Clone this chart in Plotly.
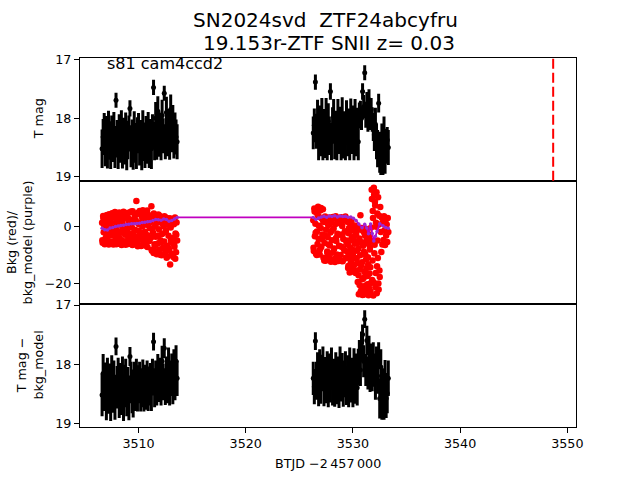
import plotly.graph_objects as go

# ---------------- data ----------------
# BTJD times, sector 81 (two orbits)
T1 = [3506.60, 3506.65, 3506.70, 3506.75, 3506.80, 3506.85, 3506.90, 3506.95, 3507.00, 3507.05,
      3507.10, 3507.15, 3507.20, 3507.25, 3507.30, 3507.35, 3507.40, 3507.45, 3507.50, 3507.55,
      3507.60, 3507.65, 3507.70, 3507.75, 3507.80, 3507.85, 3507.90, 3507.95, 3508.00, 3508.05,
      3508.10, 3508.15, 3508.20, 3508.25, 3508.30, 3508.35, 3508.40, 3508.45, 3508.50, 3508.55,
      3508.60, 3508.65, 3508.70, 3508.75, 3508.80, 3508.85, 3508.90, 3508.95, 3509.00, 3509.05,
      3509.10, 3509.15, 3509.20, 3509.25, 3509.30, 3509.35, 3509.40, 3509.45, 3509.50, 3509.55,
      3509.60, 3509.65, 3509.70, 3509.75, 3509.80, 3509.85, 3509.90, 3509.95, 3510.00, 3510.05,
      3510.10, 3510.15, 3510.20, 3510.25, 3510.30, 3510.35, 3510.40, 3510.45, 3510.50, 3510.55,
      3510.60, 3510.65, 3510.70, 3510.75, 3510.80, 3510.85, 3510.90, 3510.95, 3511.00, 3511.05,
      3511.10, 3511.15, 3511.20, 3511.25, 3511.30, 3511.35, 3511.40, 3511.45, 3511.50, 3511.55,
      3511.60, 3511.65, 3511.70, 3511.75, 3511.80, 3511.85, 3511.90, 3511.95, 3512.00, 3512.05,
      3512.10, 3512.15, 3512.20, 3512.25, 3512.30, 3512.35, 3512.40, 3512.45, 3512.50, 3512.55,
      3512.60, 3512.65, 3512.70, 3512.75, 3512.80, 3512.85, 3512.90, 3512.95, 3513.00, 3513.05,
      3513.10, 3513.15, 3513.20, 3513.25, 3513.30, 3513.35, 3513.40, 3513.45, 3513.50, 3513.55,
      3513.60]
T2 = [3526.30, 3526.35, 3526.40, 3526.45, 3526.50, 3526.55, 3526.60, 3526.65, 3526.70, 3526.75,
      3526.80, 3526.85, 3526.90, 3526.95, 3527.00, 3527.05, 3527.10, 3527.15, 3527.20, 3527.25,
      3527.30, 3527.35, 3527.40, 3527.45, 3527.50, 3527.55, 3527.60, 3527.65, 3527.70, 3527.75,
      3527.80, 3527.85, 3527.90, 3527.95, 3528.00, 3528.05, 3528.10, 3528.15, 3528.20, 3528.25,
      3528.30, 3528.35, 3528.40, 3528.45, 3528.50, 3528.55, 3528.60, 3528.65, 3528.70, 3528.75,
      3528.80, 3528.85, 3528.90, 3528.95, 3529.00, 3529.05, 3529.10, 3529.15, 3529.20, 3529.25,
      3529.30, 3529.35, 3529.40, 3529.45, 3529.50, 3529.55, 3529.60, 3529.65, 3529.70, 3529.75,
      3529.80, 3529.85, 3529.90, 3529.95, 3530.00, 3530.05, 3530.10, 3530.15, 3530.20, 3530.25,
      3530.30, 3530.35, 3530.40, 3530.45, 3530.50, 3530.55, 3530.60, 3530.65, 3530.70, 3530.75,
      3530.80, 3530.85, 3530.90, 3530.95, 3531.00, 3531.05, 3531.10, 3531.15, 3531.20, 3531.25,
      3531.30, 3531.35, 3531.40, 3531.45, 3531.50, 3531.55, 3531.60, 3531.65, 3531.70, 3531.75,
      3531.80, 3531.85, 3531.90, 3531.95, 3532.00, 3532.05, 3532.10, 3532.15, 3532.20, 3532.25,
      3532.30, 3532.35, 3532.40, 3532.45, 3532.50, 3532.55, 3532.60, 3532.65, 3532.70, 3532.75,
      3532.80, 3532.85, 3532.90, 3532.95, 3533.00, 3533.05, 3533.10, 3533.15, 3533.20, 3533.25,
      3533.30]
# extra background samples
T1b = [3506.625, 3506.725, 3506.825, 3506.925, 3507.025, 3507.125, 3507.225, 3507.325, 3507.425, 3507.525,
       3507.625, 3507.725, 3507.825, 3507.925, 3508.025, 3508.125, 3508.225, 3508.325, 3508.425, 3508.525,
       3508.625, 3508.725, 3508.825, 3508.925, 3509.025, 3509.125, 3509.225, 3509.325, 3509.425, 3509.525,
       3509.625, 3509.725, 3509.825, 3509.925, 3510.025, 3510.125, 3510.225, 3510.325, 3510.425, 3510.525,
       3510.625, 3510.725, 3510.825, 3510.925, 3511.025, 3511.125, 3511.225, 3511.325, 3511.425, 3511.525,
       3511.625, 3511.725, 3511.825, 3511.925, 3512.025, 3512.125, 3512.225, 3512.325, 3512.425, 3512.525,
       3512.625, 3512.725, 3512.825, 3512.925, 3513.025, 3513.125, 3513.225, 3513.325, 3513.425, 3513.525]
T2c = [3526.325, 3526.425, 3526.525, 3526.625, 3526.725, 3526.825, 3526.925, 3527.025, 3527.125, 3527.225,
       3527.325, 3527.425, 3527.525, 3527.625, 3527.725, 3527.825, 3527.925, 3528.025, 3528.125, 3528.225,
       3528.325, 3528.425, 3528.525, 3528.625, 3528.725, 3528.825, 3528.925, 3529.025, 3529.125, 3529.225,
       3529.325, 3529.425]
T2b = [3529.525, 3529.575, 3529.625, 3529.675, 3529.725, 3529.775, 3529.825, 3529.875, 3529.925, 3529.975,
       3530.025, 3530.075, 3530.125, 3530.175, 3530.225, 3530.275, 3530.325, 3530.375, 3530.425, 3530.475,
       3530.525, 3530.575, 3530.625, 3530.675, 3530.725, 3530.775, 3530.825, 3530.875, 3530.925, 3530.975,
       3531.025, 3531.075, 3531.125, 3531.175, 3531.225, 3531.275, 3531.325, 3531.375, 3531.425, 3531.475,
       3531.525, 3531.575, 3531.625, 3531.675, 3531.725, 3531.775, 3531.825, 3531.875, 3531.925, 3531.975,
       3532.025, 3532.075, 3532.125, 3532.175, 3532.225, 3532.275, 3532.325, 3532.375, 3532.425, 3532.475]

# background flux (red)
bkg1 = [1.2, -5.8, 3.6, -2.1, 0.4, -6.3, 2.5, -3.9, -0.8, 3.9,
        -4.7, 1.8, -6.1, 4.2, -1.5, 0.9, -3.2, 2.9, -5.4, 4.6,
        -0.3, -6.4, 3.3, -2.6, 5.0, -4.5, 1.4, -1.1, 4.1, -5.9,
        2.2, -3.5, 4.8, -6.2, 0.6, -2.0, 3.7, -4.9, 1.9, -0.9,
        5.1, -5.6, 2.7, -3.0, -6.5, 0.2, 4.4, -1.7, 3.1, -4.2,
        1.0, -6.0, 4.9, -2.8, 2.3, -4.6, -0.5, 5.3, -3.4, 1.6,
        -5.2, 3.8, -1.3, 2.0, 8.9, -6.6, 4.7, -3.6, 0.8, -4.8,
        5.4, -2.4, 1.1, -6.9, 3.4, -0.1, 5.6, -4.4, 2.6, -5.7,
        -1.9, 4.3, -6.8, 0.5, 5.5, -3.1, 2.1, -5.0, 3.9, -0.7,
        1.5, -4.0, 7.0, -8.6, 3.0, -2.3, -9.4, 4.0, -6.3, 0.3,
        -3.7, 3.6, -9.8, 1.2, -6.0, 4.1, -1.0, -8.1, 2.4, -4.9,
        2.9, -10.2, -2.7, 3.3, -7.4, 0.0, -5.3, 2.7, -9.0, -1.6,
        3.0, -6.8, -10.5, 1.6, -3.3, -8.4, 2.2, -13.4, -0.4, -5.8,
        -9.6, 2.5, -4.1, -10.8, 0.7, -7.2, 3.1, -2.5, -9.1, 1.3,
        -5.0]
bkg1b = [-4.9, 2.8, -6.0, 0.1, 3.9, -3.0, -6.4, 1.7, -1.9, 4.4,
         -5.5, 3.1, -2.4, -6.3, 4.5, 0.8, -4.1, 2.4, -6.6, -0.5,
         3.6, -5.3, -1.2, 4.7, -6.2, 1.4, -3.8, 5.2, -6.6, -2.5,
         2.6, -5.5, 4.2, -7.0, -1.6, 5.0, -4.3, 1.8, -6.4, 3.5,
         -3.5, 5.2, -7.3, 1.0, -5.2, 3.2, -8.2, -0.8, 4.5, -6.9,
         2.0, -8.9, -3.2, 3.8, -10.0, -5.6, 1.0, -7.8, 3.5, -2.0,
         -11.0, 0.5, -7.9, 2.8, -4.6, -10.2, 1.9, -6.5, -11.4, -3.0]
bkg2 = [2.1, -8.7, 6.2, -3.5, 0.9, -9.6, 4.8, -1.8, -6.2, 6.9,
        -4.4, 3.3, -9.9, 5.5, -0.6, -7.3, 2.7, -2.9, 6.0, -11.0,
        1.5, -5.9, 3.4, -12.1, -1.2, 2.6, -8.8, -3.8, 0.4, -10.6,
        3.1, -6.7, -2.2, -12.4, 1.9, -4.9, -9.3, 2.8, -0.8, -7.8,
        -11.5, 0.7, 3.5, -5.2, -9.9, -2.6, 2.3, -12.2, -6.8, 1.1,
        -3.0, -10.1, 3.2, -7.2, 0.1, -12.3, -4.5, 2.0, -8.5, -1.7,
        3.4, -11.2, -5.6, 1.6, -9.0, -14.6, -2.4, 2.5, -16.2, -7.5,
        -12.8, 1.8, -4.0, -15.9, -9.7, 0.3, -13.6, -6.1, 0.2, -16.4,
        -2.9, -11.4, 0.0, -19.5, -7.9, -23.8, -4.3, -15.2, 3.9, -21.0,
        -0.6, -12.6, -24.1, -6.8, -18.1, -2.2, -22.5, -9.8, -0.9, -14.7,
        -4.6, -20.3, -10.9, -24.2, -3.9, -16.6, -7.3, -23.0, -0.4, 12.8,
        -18.8, 5.4, -24.3, 13.5, -9.5, 8.6, -21.4, 1.2, 11.9, -14.0,
        -5.0, 10.2, -22.2, 3.7, -17.8, 6.8, -2.0, -9.0, 3.0, -6.4,
        1.4, -4.8, 3.5, -1.4, -6.6, 2.3, -3.2, 0.6, -5.5, 2.9, -2.0]
bkg2c = [-7.5, 5.2, -2.3, -10.1, 3.9, 0.2, -8.1, 6.4, -4.5, 1.9,
         -12.0, -3.2, 2.4, -9.5, -6.4, 0.9, -11.6, -1.6, 3.3, -8.0,
         -12.5, -4.1, 2.6, -10.4, -6.9, 1.3, -12.2, -2.9, -7.7, 3.0,
         -11.0, -5.0]
bkg2b = [-6.3, -13.9, -0.7, -10.4, 1.0, -15.1, -4.8, -11.9, -1.5, -8.2,
         -14.5, -3.6, -0.9, -11.0, -5.3, -15.6, -1.8, -8.6, -13.0, -5.9,
         -17.2, -1.1, -20.6, -10.2, -22.9, -13.7, -5.6, -18.6, -1.6, -24.0,
         -8.9, -16.0, -3.2, -20.9, -11.6, -23.6, -6.0, -17.4, -13.3, -2.8,
         -21.8, -8.1, -14.4, -19.9, -5.2, 9.6, -12.0, 2.9, -19.6, 11.1,
         -6.5, 7.3, -16.4, -0.2, -23.5, 4.5, -11.1, -20.1, 0.6, -15.5]

# background model (purple)
mt1 = [3506.60, 3506.85, 3507.10, 3507.35, 3507.60, 3507.85, 3508.10, 3508.35, 3508.60, 3508.85,
       3509.10, 3509.35, 3509.60, 3509.85, 3510.10, 3510.35, 3510.60, 3510.85, 3511.10, 3511.35,
       3511.60, 3511.85, 3512.10, 3512.35, 3512.60, 3512.85, 3513.10, 3513.35, 3513.60]
mv1 = [-0.7, -1.2, -1.3, -0.6, -0.4, -0.1, 0.1, 0.3, 0.4, 0.6,
       0.7, 0.9, 0.9, 1.0, 1.1, 1.3, 1.4, 1.6, 1.7, 2.0,
       2.4, 2.3, 2.1, 2.6, 2.4, 1.8, 2.0, 2.6, 3.1]
mt2 = [3526.30, 3526.55, 3526.80, 3527.05, 3527.30, 3527.55, 3527.80, 3528.05, 3528.30, 3528.55,
       3528.80, 3529.05, 3529.30, 3529.55, 3529.80, 3530.05, 3530.30, 3530.55, 3530.85, 3531.10,
       3531.30, 3531.45, 3531.65, 3531.80, 3531.95, 3532.10, 3532.25, 3532.50, 3532.80, 3533.05,
       3533.30]
mv2 = [3.1, 2.4, 2.9, 3.3, 3.5, 3.2, 3.6, 3.4, 3.7, 3.3,
       3.6, 3.4, 3.5, 3.2, 3.3, 2.8, 2.0, 0.8, -0.5, 0.7,
       -0.6, -2.6, 0.8, -2.5, -5.2, -3.5, -1.8, 0.9, 0.2, -0.4,
       -0.7]

# T mag (top panel), sampled every other time stamp
mag1 = [18.52, 18.32, 18.21, 18.47, 18.27, 18.50, 18.17, 18.38, 18.51, 18.25,
        18.41, 18.19, 18.49, 17.69, 18.35, 18.52, 18.23, 18.43, 18.15, 18.51,
        18.31, 18.45, 18.20, 18.54, 18.37, 18.26, 17.83, 18.48, 18.34, 18.53,
        18.18, 18.42, 18.52, 18.29, 18.21, 18.47, 18.36, 18.54, 18.16, 18.40,
        18.50, 18.27, 18.44, 18.19, 18.49, 18.33, 18.52, 18.23, 17.47, 18.39,
        18.00, 18.42, 17.88, 18.36, 18.18, 18.44, 17.95, 18.30, 17.57, 18.40,
        17.90, 18.35, 18.12, 18.42, 17.85, 18.28, 18.05, 18.38, 18.18, 18.32, 18.40]
err1 = [0.33, 0.31, 0.30, 0.35, 0.31, 0.36, 0.30, 0.33, 0.36, 0.30,
        0.34, 0.30, 0.36, 0.13, 0.32, 0.35, 0.30, 0.33, 0.29, 0.35,
        0.32, 0.34, 0.30, 0.35, 0.33, 0.31, 0.14, 0.36, 0.32, 0.35,
        0.30, 0.34, 0.35, 0.31, 0.30, 0.34, 0.33, 0.35, 0.30, 0.33,
        0.35, 0.31, 0.34, 0.30, 0.36, 0.32, 0.35, 0.30, 0.13, 0.33,
        0.28, 0.29, 0.26, 0.30, 0.28, 0.28, 0.27, 0.30, 0.13, 0.30,
        0.27, 0.30, 0.28, 0.29, 0.26, 0.30, 0.28, 0.31, 0.28, 0.30, 0.30]
mag2 = [18.25, 18.12, 17.38, 18.22, 17.98, 18.40, 18.08, 18.32, 17.96, 18.42,
        18.15, 18.35, 17.95, 18.42, 18.05, 18.30, 17.54, 18.40, 18.12, 17.97,
        18.38, 18.18, 18.42, 17.98, 18.28, 18.10, 18.41, 17.94, 18.36, 18.20,
        18.42, 18.00, 18.32, 18.14, 18.40, 17.96, 18.28, 18.08, 18.40, 17.97,
        18.33, 18.12, 18.40, 17.95, 17.90, 18.00, 17.54, 17.80, 17.22, 17.94,
        17.75, 18.02, 17.68, 17.98, 17.85, 18.02, 18.15, 18.28, 18.10, 18.40,
        18.52, 17.74, 18.58, 18.65, 18.42, 18.66, 18.25, 18.62, 18.48, 18.37, 18.50]
err2 = [0.28, 0.29, 0.13, 0.30, 0.30, 0.32, 0.30, 0.33, 0.31, 0.30,
        0.31, 0.33, 0.30, 0.30, 0.31, 0.33, 0.14, 0.32, 0.31, 0.30,
        0.32, 0.31, 0.30, 0.31, 0.33, 0.30, 0.31, 0.30, 0.33, 0.32,
        0.30, 0.31, 0.33, 0.31, 0.32, 0.30, 0.33, 0.30, 0.32, 0.30,
        0.32, 0.30, 0.32, 0.22, 0.20, 0.20, 0.14, 0.20, 0.13, 0.22,
        0.20, 0.21, 0.18, 0.22, 0.20, 0.21, 0.24, 0.28, 0.28, 0.30,
        0.32, 0.16, 0.35, 0.32, 0.33, 0.31, 0.28, 0.33, 0.30, 0.22, 0.30]

# T mag - bkg_model (bottom panel)
dmag1 = [18.52, 18.16, 18.43, 18.31, 18.57, 18.22, 18.47, 18.34, 18.58, 18.19,
         18.45, 18.28, 18.56, 17.70, 18.39, 18.23, 18.53, 18.33, 18.49, 18.21,
         18.58, 18.37, 18.25, 18.51, 18.41, 18.57, 17.87, 18.31, 18.46, 18.53,
         18.28, 18.45, 18.22, 18.49, 18.34, 18.27, 18.47, 18.40, 18.23, 18.51,
         18.33, 18.43, 18.25, 18.46, 18.37, 18.29, 18.45, 18.22, 17.62, 18.40,
         18.24, 18.40, 18.12, 18.33, 18.19, 18.42, 17.95, 18.30, 17.73, 18.38,
         18.16, 18.35, 17.98, 18.40, 18.24, 18.10, 18.36, 18.02, 18.30, 17.95, 18.24]
derr1 = [0.36, 0.33, 0.36, 0.34, 0.38, 0.33, 0.37, 0.35, 0.38, 0.34,
         0.37, 0.34, 0.38, 0.15, 0.36, 0.34, 0.38, 0.35, 0.37, 0.34,
         0.38, 0.36, 0.34, 0.37, 0.36, 0.38, 0.16, 0.35, 0.37, 0.37,
         0.32, 0.34, 0.31, 0.31, 0.32, 0.31, 0.33, 0.33, 0.31, 0.29,
         0.32, 0.34, 0.31, 0.33, 0.33, 0.31, 0.34, 0.31, 0.15, 0.33,
         0.30, 0.30, 0.29, 0.31, 0.30, 0.28, 0.26, 0.31, 0.17, 0.31,
         0.29, 0.31, 0.26, 0.30, 0.30, 0.28, 0.32, 0.27, 0.31, 0.27, 0.30]
dmag2 = [18.24, 18.38, 17.61, 18.28, 18.10, 18.40, 18.05, 18.35, 18.15, 17.96,
         18.40, 18.20, 18.33, 18.08, 18.42, 18.14, 18.32, 18.02, 18.38, 18.22,
         18.41, 18.10, 18.36, 18.18, 18.44, 18.00, 18.30, 18.12, 18.40, 18.25,
         18.08, 18.37, 18.16, 18.42, 18.02, 18.32, 18.20, 18.43, 18.04, 18.35,
         18.14, 18.40, 18.05, 17.85, 18.10, 17.70, 17.50, 17.95, 17.24, 18.10,
         17.60, 18.15, 17.78, 18.22, 17.92, 18.18, 17.90, 18.10, 18.30, 17.98,
         18.20, 17.83, 18.58, 18.05, 18.62, 18.40, 18.64, 18.24, 18.58, 18.49, 18.24]
derr2 = [0.28, 0.30, 0.15, 0.32, 0.30, 0.31, 0.30, 0.32, 0.31, 0.26,
         0.31, 0.32, 0.33, 0.30, 0.31, 0.32, 0.33, 0.30, 0.32, 0.31,
         0.31, 0.30, 0.32, 0.31, 0.30, 0.30, 0.33, 0.31, 0.32, 0.31,
         0.30, 0.32, 0.31, 0.31, 0.30, 0.33, 0.31, 0.30, 0.31, 0.32,
         0.32, 0.30, 0.31, 0.26, 0.27, 0.25, 0.17, 0.27, 0.15, 0.27,
         0.25, 0.28, 0.26, 0.25, 0.27, 0.28, 0.27, 0.28, 0.30, 0.28,
         0.30, 0.20, 0.34, 0.30, 0.32, 0.33, 0.30, 0.31, 0.33, 0.34, 0.30]

t_marker = [3548.68]
x_ticks = [3510, 3520, 3530, 3540, 3550]
title_lines = ["SN2024svd  ZTF24abcyfru", "19.153r-ZTF SNII z= 0.03"]

for a, b in [(T1, bkg1), (T2, bkg2), (T1b, bkg1b), (T2c, bkg2c), (T2b, bkg2b),
             (mt1, mv1), (mt2, mv2)]:
    assert len(a) == len(b), (len(a), len(b))
for arr in [mag1, err1, mag2, err2, dmag1, derr1, dmag2, derr2]:
    assert len(arr) == len(T1[::2]), len(arr)

# ---------------- figure ----------------
FONT = "DejaVu Sans"
tl = T1[::2] + T2[::2]

fig = go.Figure()
# panel 1
fig.add_trace(go.Scatter(x=tl, y=mag1 + mag2, mode="markers",
                         marker=dict(color="black", size=5),
                         error_y=dict(type="data", array=err1 + err2, color="black",
                                      thickness=3, width=0),
                         xaxis="x", yaxis="y"))
# panel 2
fig.add_trace(go.Scatter(x=T1 + T1b + T2 + T2c + T2b,
                         y=bkg1 + bkg1b + bkg2 + bkg2c + bkg2b, mode="markers",
                         marker=dict(color="#ff0000", size=6.5),
                         xaxis="x2", yaxis="y2"))
fig.add_trace(go.Scatter(x=mt1 + mt2, y=mv1 + mv2, mode="lines+markers",
                         line=dict(color="#c000c0", width=1.8),
                         marker=dict(color="#9a2ad2", size=3.5),
                         xaxis="x2", yaxis="y2"))
# panel 3
fig.add_trace(go.Scatter(x=tl, y=dmag1 + dmag2, mode="markers",
                         marker=dict(color="black", size=5),
                         error_y=dict(type="data", array=derr1 + derr2, color="black",
                                      thickness=3, width=0),
                         xaxis="x3", yaxis="y3"))

fig.add_shape(type="line", xref="x", yref="y domain", x0=t_marker[0], x1=t_marker[0],
              y0=0, y1=1, line=dict(color="#ff0000", width=2, dash="10px,4px"))

xr = [3504.54, 3550.81]
ax_common = dict(showline=True, mirror=True, linecolor="black", linewidth=1,
                 showgrid=False, zeroline=False, automargin=False)
tickfont = dict(family=FONT, size=12.7, color="black")

layout = dict(
    template="none",
    width=640, height=480,
    margin=dict(l=0, r=0, t=0, b=0, pad=0, autoexpand=False),
    paper_bgcolor="white", plot_bgcolor="white", showlegend=False,
    xaxis=dict(domain=[0.125, 0.9], range=xr, anchor="y", showticklabels=False,
               ticks="", **ax_common),
    xaxis2=dict(domain=[0.125, 0.9], range=xr, anchor="y2", showticklabels=False,
                ticks="", **ax_common),
    xaxis3=dict(domain=[0.125, 0.9], range=xr, anchor="y3", tickvals=x_ticks,
                ticktext=[str(v) for v in x_ticks], ticks="outside", ticklen=5,
                tickwidth=1, tickcolor="black", tickfont=tickfont, **ax_common),
    yaxis=dict(domain=[0.62333, 0.88], range=[19.07, 16.96], anchor="x",
               tickvals=[17, 18, 19], ticktext=["17", "18", "19"], ticks="outside",
               ticklen=5, tickwidth=1, tickcolor="black", tickfont=tickfont, **ax_common),
    yaxis2=dict(domain=[0.36667, 0.62333], range=[-27.26, 15.96], anchor="x2",
                tickvals=[-20, 0], ticktext=["\u221220", "0"], ticks="outside",
                ticklen=5, tickwidth=1, tickcolor="black", tickfont=tickfont, **ax_common),
    yaxis3=dict(domain=[0.11, 0.36667], range=[19.066, 16.983], anchor="x3",
                tickvals=[17, 18, 19], ticktext=["17", "18", "19"], ticks="outside",
                ticklen=5, tickwidth=1, tickcolor="black", tickfont=tickfont, **ax_common),
)
fig.update_layout(**layout)

def ann(text, x, y, size, angle=0, xanchor="center"):
    fig.add_annotation(text=text, x=x, y=y, xref="paper", yref="paper",
                       xanchor=xanchor, yanchor="middle", showarrow=False,
                       textangle=angle, font=dict(family=FONT, size=size, color="black"))

ann(title_lines[0], 325 / 640, 1 - 20 / 480, 20)
ann(title_lines[1], 328.5 / 640, 1 - 43 / 480, 20)
ann("s81 cam4ccd2", 105 / 640, 1 - 64 / 480, 16, xanchor="left")
ann("T mag", 38 / 640, (0.88 + 0.62333) / 2, 12.7, angle=-90)
ann("Bkg (red)/<br>bkg_model (purple)", 20 / 640, (0.62333 + 0.36667) / 2, 12.7, angle=-90)
ann("T mag \u2212<br>bkg_model", 30 / 640, (0.36667 + 0.11) / 2, 12.7, angle=-90)
ann("BTJD \u22122\u2009457\u2009000", 0.5125, 1 - 463 / 480, 12.7)

fig.write_html("out.html")
